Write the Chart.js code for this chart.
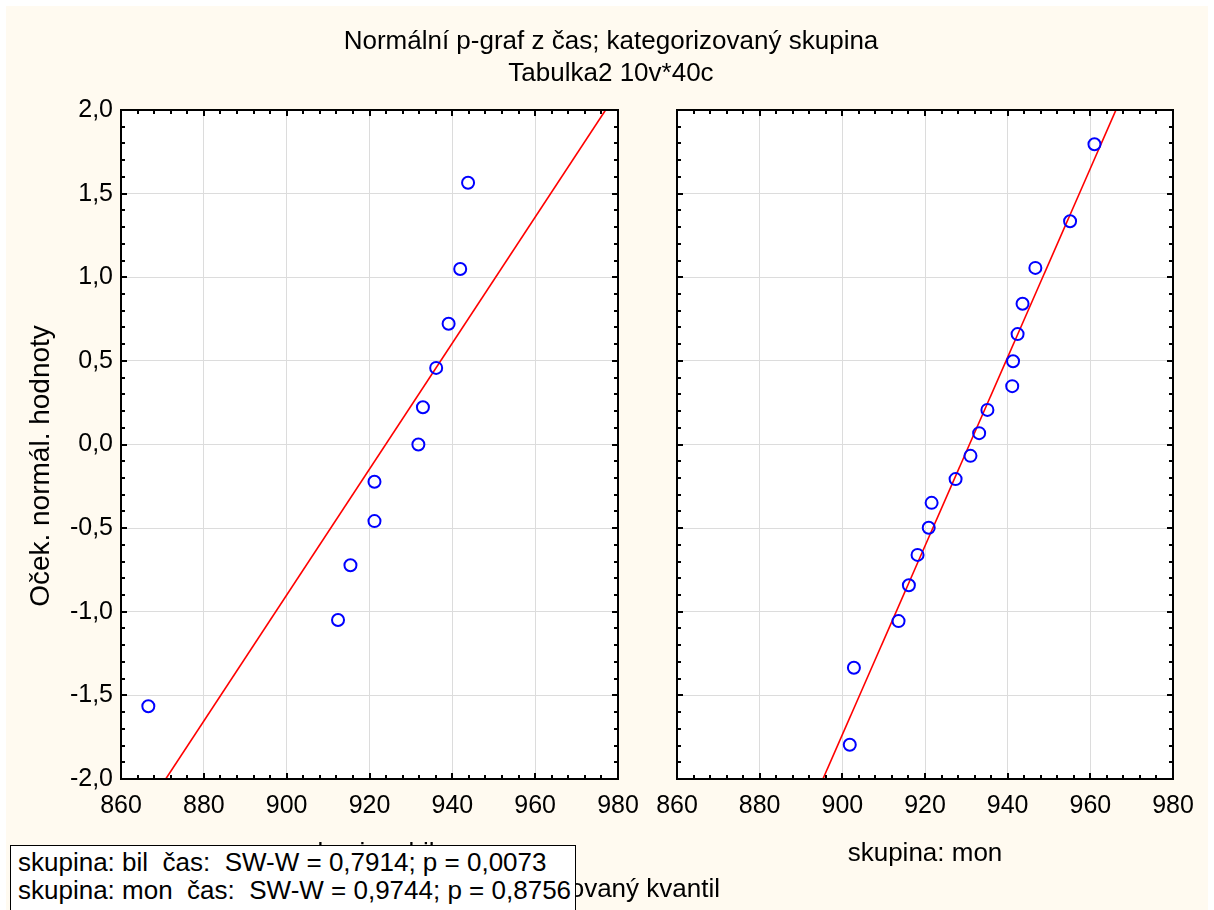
<!DOCTYPE html>
<html>
<head>
<meta charset="utf-8">
<script src="https://cdn.jsdelivr.net/npm/chart.js@4.4.0/dist/chart.umd.min.js"></script>
<style>
  body { margin: 0; background: #fff; font-family: "Liberation Sans", Arial, sans-serif; }
  #page { position: relative; width: 1214px; height: 910px; overflow: hidden; }
  #bg { position: absolute; left: 6px; top: 6px; width: 1202px; height: 904px; background: #fffaf0; }
  canvas { position: absolute; top: 0; }
  .txt { position: absolute; white-space: nowrap; color: #000; font-size: 26px; line-height: 30px; }
  #title1, #title2 { left: 0; width: 1222px; text-align: center; }
  #title1 { top: 25px; }
  #title2 { top: 57px; }
  #ytitle { left: -160px; top: 451px; width: 400px; text-align: center; transform: rotate(-90deg); font-size: 28px; }
  #xtitle { right: 494px; top: 873px; text-align: right; }
  #stats { position: absolute; left: 10px; top: 845px; width: 566px; height: 80px; border: 1px solid #000;
           background: #fff; z-index: 5; font-size: 26px; line-height: 28px; padding: 2px 0 0 7px; box-sizing: border-box; }
</style>
</head>
<body>
<div id="page">
  <div id="bg"></div>
  <canvas id="bil" width="646" height="910" style="left:0;width:646px;height:910px"></canvas>
  <canvas id="mon" width="568" height="910" style="left:646px;width:568px;height:910px"></canvas>
  <div class="txt" id="title1">Normální p-graf z čas; kategorizovaný skupina</div>
  <div class="txt" id="title2">Tabulka2 10v*40c</div>
  <div class="txt" id="ytitle">Oček. normál. hodnoty</div>
  <div class="txt" id="xtitle">Pozorovaný kvantil</div>
  <div id="stats">
    <div>skupina: bil&nbsp; čas:&nbsp; SW-W = 0,7914; p = 0,0073</div>
    <div>skupina: mon&nbsp; čas:&nbsp; SW-W = 0,9744; p = 0,8756</div>
  </div>
</div>
<script>
// observed quantiles (čas) and expected normal values, group "bil"
const bilX = [866.6, 912.4, 915.4, 921.2, 921.2, 931.8, 932.9, 936.1, 939.1, 941.9, 943.8];
const bilY = [-1.565, -1.049, -0.722, -0.458, -0.223, 0, 0.223, 0.458, 0.722, 1.049, 1.565];
// group "mon"
const monX = [901.8, 902.8, 913.6, 916.1, 918.2, 920.9, 921.6, 927.4, 931.0, 933.1, 935.1, 941.1, 941.3, 942.4, 943.6, 946.7, 955.1, 961.0];
const monY = [-1.795, -1.335, -1.056, -0.842, -0.660, -0.498, -0.349, -0.207, -0.068, 0.068, 0.207, 0.349, 0.498, 0.660, 0.842, 1.056, 1.335, 1.795];

// fitted normal lines (ends at y = -2 and y = 2)
const fitY = [-2, 2];
const bilFitX = [870.8, 977.0];
const monFitX = [895.3, 966.2];

const xTickValues = [860, 880, 900, 920, 940, 960, 980];
const yTickValues = [-2, -1.5, -1, -0.5, 0, 0.5, 1, 1.5, 2];
const xMinorStep = 4;
const yMinorStep = 0.1;

const FONT = '"Liberation Sans", Arial, sans-serif';

const toPts = (xs, ys) => xs.map((x, i) => ({ x: x, y: ys[i] }));

// white plot area, black frame with inward ticks on all four sides
const framePlugin = {
  id: 'frame',
  beforeDraw(chart) {
    const a = chart.chartArea, ctx = chart.ctx;
    ctx.save();
    ctx.fillStyle = '#fff';
    ctx.fillRect(a.left, a.top, a.right - a.left, a.bottom - a.top);
    ctx.restore();
  },
  afterDraw(chart) {
    const { ctx, chartArea: a, scales: { x, y } } = chart;
    ctx.save();
    ctx.strokeStyle = '#000';
    ctx.lineWidth = 2;
    ctx.beginPath();
    const nx = Math.round((x.max - x.min) / xMinorStep);
    for (let i = 0; i <= nx; i++) {
      const v = x.min + i * xMinorStep;
      const px = Math.round(x.getPixelForValue(v));
      const len = xTickValues.includes(v) ? 6 : 4;
      ctx.moveTo(px, a.bottom); ctx.lineTo(px, a.bottom - len);
      ctx.moveTo(px, a.top); ctx.lineTo(px, a.top + len);
    }
    const ny = Math.round((y.max - y.min) / yMinorStep);
    for (let i = 0; i <= ny; i++) {
      const v = +(y.min + i * yMinorStep).toFixed(2);
      const py = Math.round(y.getPixelForValue(v));
      const len = yTickValues.includes(v) ? 6 : 4;
      ctx.moveTo(a.left, py); ctx.lineTo(a.left + len, py);
      ctx.moveTo(a.right, py); ctx.lineTo(a.right - len, py);
    }
    ctx.stroke();
    ctx.strokeRect(a.left, a.top, a.right - a.left, a.bottom - a.top);
    ctx.restore();
  }
};

function makePanel(id, xs, ys, fitX, label, yWidth, padRight, showY) {
  return new Chart(document.getElementById(id), {
    type: 'scatter',
    data: {
      datasets: [
        {
          data: toPts(xs, ys),
          pointStyle: 'circle',
          pointRadius: 6,
          pointBorderWidth: 2,
          borderColor: '#0000ff',
          backgroundColor: 'rgba(0,0,0,0)',
          order: 0
        },
        {
          data: toPts(fitX, fitY),
          showLine: true,
          pointRadius: 0,
          borderColor: '#ff0000',
          borderWidth: 1.6,
          order: 1
        }
      ]
    },
    options: {
      responsive: false,
      animation: false,
      layout: { padding: { top: 110, right: padRight, left: 0, bottom: 0 } },
      plugins: { legend: { display: false }, tooltip: { enabled: false } },
      scales: {
        x: {
          type: 'linear',
          min: 860, max: 980,
          afterBuildTicks: s => { s.ticks = xTickValues.map(v => ({ value: v })); },
          afterFit: s => { s.height = 131; s.paddingLeft = 0; s.paddingRight = 0; },
          ticks: { color: '#000', font: { family: FONT, size: 25 }, padding: 12, maxRotation: 0, autoSkip: false },
          grid: { color: '#dcdcdc', lineWidth: 1, drawTicks: false },
          border: { display: false },
          title: { display: true, text: label, color: '#000', font: { family: FONT, size: 26 }, padding: { top: 0, bottom: 41 } }
        },
        y: {
          type: 'linear',
          min: -2, max: 2,
          afterBuildTicks: s => { s.ticks = yTickValues.map(v => ({ value: v })); },
          afterFit: s => { s.width = yWidth; s.paddingTop = 0; s.paddingBottom = 0; },
          ticks: {
            display: showY,
            color: '#000', font: { family: FONT, size: 25 }, padding: 8,
            callback: v => v.toFixed(1).replace('.', ',')
          },
          grid: { color: '#dcdcdc', lineWidth: 1, drawTicks: false },
          border: { display: false }
        }
      }
    },
    plugins: [framePlugin]
  });
}

makePanel('bil', bilX, bilY, bilFitX, 'skupina: bil', 121, 28, true);
makePanel('mon', monX, monY, monFitX, 'skupina: mon', 31, 41, false);
</script>
</body>
</html>
